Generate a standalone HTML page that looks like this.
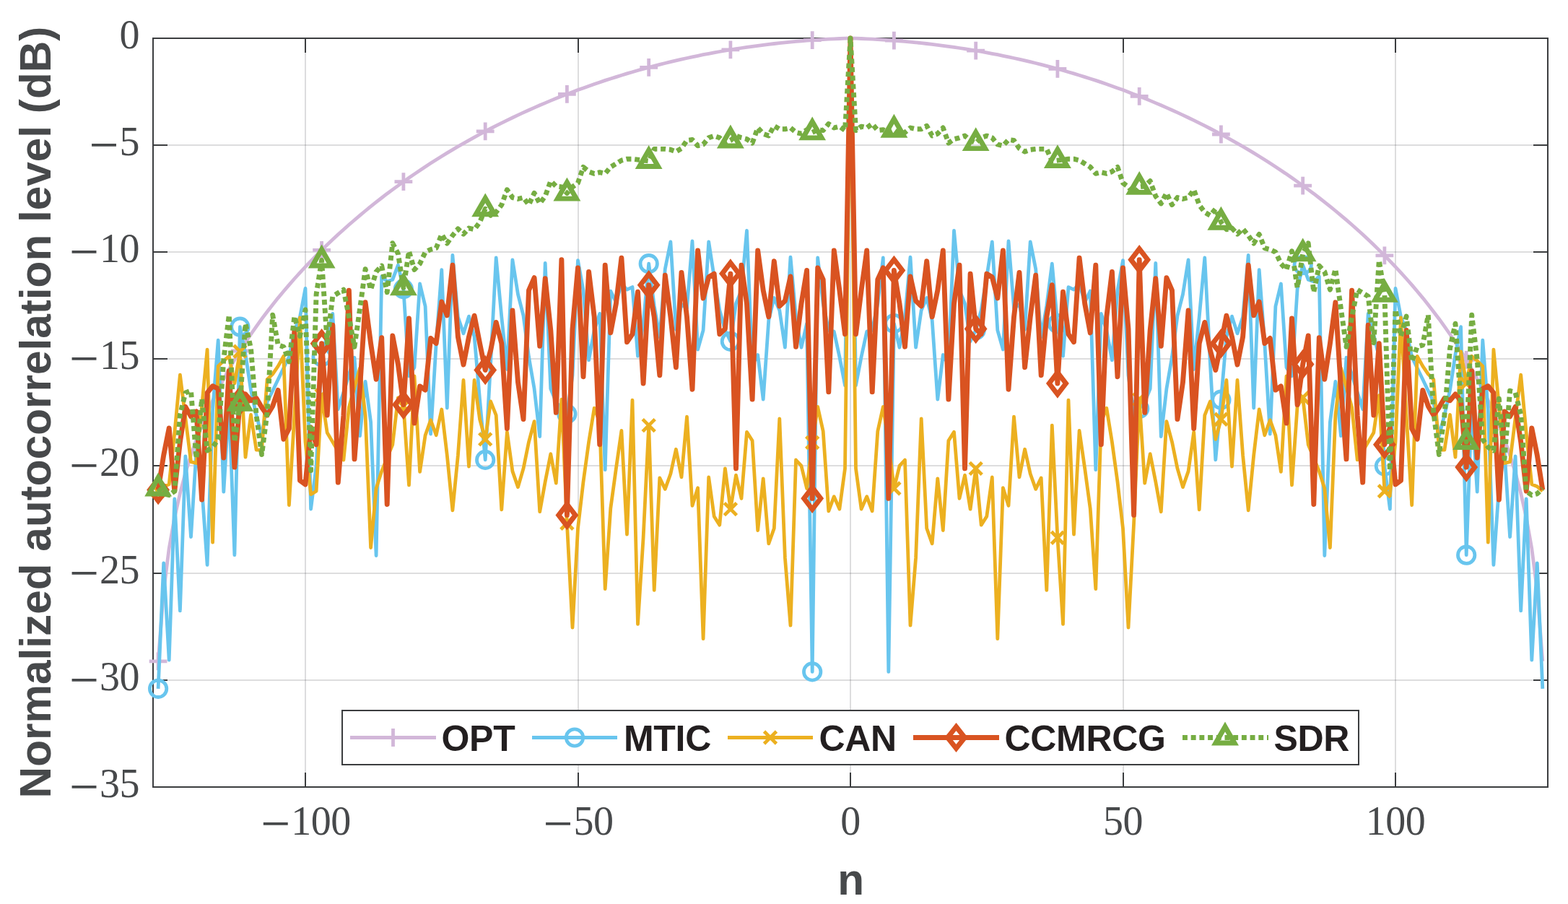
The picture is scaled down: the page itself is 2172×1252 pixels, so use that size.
<!DOCTYPE html>
<html lang="en"><head><meta charset="utf-8"><title>Normalized autocorrelation level</title>
<style>html,body{margin:0;padding:0;background:#fff}body{width:2172px;height:1252px;overflow:hidden}svg{display:block}.tk{font-family:"Liberation Serif","DejaVu Serif",serif;font-size:56px;letter-spacing:-0.5px;fill:#47494b}.mn{font-family:"Liberation Serif","DejaVu Serif",serif;font-size:72.8px;fill:#47494b}.lb{font-family:"Liberation Sans","DejaVu Sans",sans-serif;font-weight:bold;font-size:60.3px;fill:#47494b}.lg{font-family:"Liberation Sans","DejaVu Sans",sans-serif;font-weight:bold;font-size:50px;letter-spacing:-0.3px;fill:#231f20}</style></head><body>
<svg width="2172" height="1252" viewBox="0 0 2172 1252">
<rect x="0" y="0" width="2172" height="1252" fill="#ffffff"/>
<path d="M423 53V1090M801 53V1090M1178 53V1090M1556 53V1090M1933 53V1090" stroke="#26282c" stroke-opacity="0.155" stroke-width="2" fill="none"/>
<path d="M212 201H2144M212 349H2144M212 497H2144M212 645H2144M212 794H2144M212 942H2144" stroke="#26282c" stroke-opacity="0.155" stroke-width="2" fill="none"/>
<path d="M423 1090V1070M423 53V73M801 1090V1070M801 53V73M1178 1090V1070M1178 53V73M1556 1090V1070M1556 53V73M1933 1090V1070M1933 53V73M212 201H232M2144 201H2124M212 349H232M2144 349H2124M212 497H232M2144 497H2124M212 645H232M2144 645H2124M212 794H232M2144 794H2124M212 942H232M2144 942H2124" stroke="#3b3d3f" stroke-width="2" fill="none"/>
<rect x="212" y="53" width="1932" height="1037" stroke="#3b3d3f" stroke-width="2" fill="none"/>
<path d="M219.1 915.8L226.7 818.1L234.2 759.6L241.8 717L249.4 683.2L256.9 654.9L264.5 630.4L272 608.7L279.6 589.1L287.1 571.2L294.6 554.7L302.2 539.3L309.8 524.8L317.3 511.2L324.9 498.3L332.4 486L340 474.2L347.5 463L355.1 452.1L362.6 441.7L370.1 431.7L377.7 422L385.2 412.6L392.8 403.5L400.4 394.6L407.9 386L415.5 377.7L423 369.5L430.6 361.6L438.1 353.9L445.6 346.4L453.2 339L460.8 331.8L468.3 324.8L475.9 318L483.4 311.3L491 304.7L498.5 298.3L506.1 292L513.6 285.9L521.1 279.9L528.7 274L536.2 268.2L543.8 262.6L551.4 257.1L558.9 251.6L566.5 246.3L574 241.1L581.6 236L589.1 231L596.6 226.1L604.2 221.3L611.8 216.5L619.3 211.9L626.9 207.4L634.4 202.9L642 198.6L649.5 194.3L657.1 190.1L664.6 186L672.2 181.9L679.7 178L687.2 174.1L694.8 170.3L702.4 166.6L709.9 163L717.5 159.4L725 155.9L732.5 152.5L740.1 149.1L747.7 145.8L755.2 142.6L762.8 139.4L770.3 136.3L777.9 133.3L785.4 130.4L793 127.5L800.5 124.6L808 121.9L815.6 119.2L823.2 116.5L830.7 113.9L838.2 111.4L845.8 109L853.4 106.6L860.9 104.2L868.5 101.9L876 99.7L883.5 97.5L891.1 95.4L898.7 93.4L906.2 91.4L913.8 89.4L921.3 87.5L928.9 85.7L936.4 83.9L944 82.2L951.5 80.5L959 78.8L966.6 77.3L974.1 75.7L981.7 74.3L989.2 72.9L996.8 71.5L1004.4 70.2L1011.9 68.9L1019.5 67.7L1027 66.5L1034.5 65.4L1042.1 64.3L1049.7 63.3L1057.2 62.3L1064.8 61.4L1072.3 60.5L1079.8 59.6L1087.4 58.9L1095 58.1L1102.5 57.4L1110 56.8L1117.6 56.2L1125.2 55.6L1132.7 55.1L1140.2 54.6L1147.8 54.2L1155.3 53.9L1162.9 53.5L1170.5 53.2L1178 53L1185.5 53.2L1193.1 53.5L1200.7 53.9L1208.2 54.2L1215.8 54.6L1223.3 55.1L1230.8 55.6L1238.4 56.2L1246 56.8L1253.5 57.4L1261 58.1L1268.6 58.9L1276.2 59.6L1283.7 60.5L1291.2 61.4L1298.8 62.3L1306.3 63.3L1313.9 64.3L1321.5 65.4L1329 66.5L1336.5 67.7L1344.1 68.9L1351.7 70.2L1359.2 71.5L1366.8 72.9L1374.3 74.3L1381.8 75.7L1389.4 77.3L1397 78.8L1404.5 80.5L1412 82.2L1419.6 83.9L1427.2 85.7L1434.7 87.5L1442.2 89.4L1449.8 91.4L1457.3 93.4L1464.9 95.4L1472.5 97.5L1480 99.7L1487.5 101.9L1495.1 104.2L1502.7 106.6L1510.2 109L1517.8 111.4L1525.3 113.9L1532.8 116.5L1540.4 119.2L1548 121.9L1555.5 124.6L1563 127.5L1570.6 130.4L1578.2 133.3L1585.7 136.3L1593.2 139.4L1600.8 142.6L1608.3 145.8L1615.9 149.1L1623.5 152.5L1631 155.9L1638.5 159.4L1646.1 163L1653.7 166.6L1661.2 170.3L1668.8 174.1L1676.3 178L1683.8 181.9L1691.4 186L1698.9 190.1L1706.5 194.3L1714 198.6L1721.6 202.9L1729.2 207.4L1736.7 211.9L1744.2 216.5L1751.8 221.3L1759.3 226.1L1766.9 231L1774.4 236L1782 241.1L1789.5 246.3L1797.1 251.6L1804.7 257.1L1812.2 262.6L1819.8 268.2L1827.3 274L1834.8 279.9L1842.4 285.9L1849.9 292L1857.5 298.3L1865 304.7L1872.6 311.3L1880.2 318L1887.7 324.8L1895.2 331.8L1902.8 339L1910.3 346.4L1917.9 353.9L1925.4 361.6L1933 369.5L1940.5 377.7L1948.1 386L1955.7 394.6L1963.2 403.5L1970.8 412.6L1978.3 422L1985.8 431.7L1993.4 441.7L2000.9 452.1L2008.5 463L2016 474.2L2023.6 486L2031.2 498.3L2038.7 511.2L2046.2 524.8L2053.8 539.3L2061.3 554.7L2068.9 571.2L2076.4 589.1L2084 608.7L2091.6 630.4L2099.1 654.9L2106.7 683.2L2114.2 717L2121.8 759.6L2129.3 818.1L2136.8 915.8" stroke="#d2b7d9" stroke-width="4.8" fill="none" stroke-linejoin="round" stroke-linecap="butt"/>
<path d="M206.7 915.8H231.5M219.1 903.4V928.2" stroke="#d2b7d9" stroke-width="4.8" fill="none"/>
<path d="M320 486H344.8M332.4 473.6V498.4" stroke="#d2b7d9" stroke-width="4.8" fill="none"/>
<path d="M433.2 346.4H458M445.6 334V358.8" stroke="#d2b7d9" stroke-width="4.8" fill="none"/>
<path d="M546.5 251.6H571.3M558.9 239.2V264" stroke="#d2b7d9" stroke-width="4.8" fill="none"/>
<path d="M659.8 181.9H684.6M672.2 169.5V194.3" stroke="#d2b7d9" stroke-width="4.8" fill="none"/>
<path d="M773 130.4H797.8M785.4 118V142.8" stroke="#d2b7d9" stroke-width="4.8" fill="none"/>
<path d="M886.3 93.4H911.1M898.7 81V105.8" stroke="#d2b7d9" stroke-width="4.8" fill="none"/>
<path d="M999.5 68.9H1024.3M1011.9 56.5V81.3" stroke="#d2b7d9" stroke-width="4.8" fill="none"/>
<path d="M1112.8 55.6H1137.6M1125.2 43.2V68" stroke="#d2b7d9" stroke-width="4.8" fill="none"/>
<path d="M1226 56.2H1250.8M1238.4 43.8V68.6" stroke="#d2b7d9" stroke-width="4.8" fill="none"/>
<path d="M1339.2 70.2H1364.1M1351.7 57.8V82.6" stroke="#d2b7d9" stroke-width="4.8" fill="none"/>
<path d="M1452.5 95.4H1477.3M1464.9 83V107.8" stroke="#d2b7d9" stroke-width="4.8" fill="none"/>
<path d="M1565.8 133.3H1590.6M1578.2 120.9V145.7" stroke="#d2b7d9" stroke-width="4.8" fill="none"/>
<path d="M1679 186H1703.8M1691.4 173.6V198.4" stroke="#d2b7d9" stroke-width="4.8" fill="none"/>
<path d="M1792.2 257.1H1817.1M1804.7 244.7V269.5" stroke="#d2b7d9" stroke-width="4.8" fill="none"/>
<path d="M1905.5 353.9H1930.3M1917.9 341.5V366.3" stroke="#d2b7d9" stroke-width="4.8" fill="none"/>
<path d="M2018.8 498.3H2043.6M2031.2 485.9V510.7" stroke="#d2b7d9" stroke-width="4.8" fill="none"/>
<path d="M219.1 953.8L226.7 779.8L234.2 914.1L241.8 691L249.4 845.9L256.9 631.8L264.5 743.7L272 624.1L279.6 675.2L287.1 782.4L294.6 567.8L302.2 471.2L309.8 681.1L317.3 557.7L324.9 768.7L332.4 452.7L340 490.5L347.5 540.3L355.1 575.2L362.6 603.7L370.1 556.8L377.7 541.2L385.2 525.5L392.8 509.8L400.4 494.2L407.9 457.3L415.5 438.9L423 399.4L430.6 705L438.1 645.6L445.6 494.2L453.2 463.8L460.8 434.4L468.3 566.8L475.9 543.3L483.4 518.7L491 495.2L498.5 603.7L506.1 528.4L513.6 584.5L521.1 769.5L528.7 382.8L536.2 390L543.8 387.3L551.4 367.1L558.9 400.2L566.5 520.8L574 508.9L581.6 393L589.1 424.2L596.6 601L604.2 475.7L611.8 373.6L619.3 565L626.9 353.4L634.4 438.9L642 461.9L649.5 438.1L657.1 466.5L664.6 553.7L672.2 636.9L679.7 501.6L687.2 357L694.8 438.9L702.4 511.6L709.9 359.8L717.5 407.6L725 437.1L732.5 494.2L740.1 538.4L747.7 604.6L755.2 364.4L762.8 538.4L770.3 556.8L777.9 566L785.4 573.4L793 520L800.5 360.7L808 402.1L815.6 498.7L823.2 457.3L830.7 434.4L838.2 650.7L845.8 403.1L853.4 418.5L860.9 393L868.5 401.1L876 397.6L883.5 493.2L891.1 448.2L898.7 365.2L906.2 423.4L913.8 466.8L921.3 372.6L928.9 334.9L936.4 456.3L944 421.5L951.5 426.9L959 334L966.6 484L974.1 457.3L981.7 334.9L989.2 383.7L996.8 429.7L1004.4 457.3L1011.9 472.8L1019.5 420.5L1027 402.1L1034.5 319.3L1042.1 505.3L1049.7 491.5L1057.2 553.1L1064.8 443.5L1072.3 412.5L1079.8 429.7L1087.4 481.2L1095 356.1L1102.5 438.9L1110 481.2L1117.6 448.1L1125.2 930.4L1132.7 357L1140.2 420.5L1147.8 457.3L1155.3 459.2L1162.9 494.2L1170.5 533.7L1178 53L1185.5 533.7L1193.1 494.2L1200.7 459.2L1208.2 457.3L1215.8 420.5L1223.3 357L1230.8 930.4L1238.4 448.1L1246 481.2L1253.5 438.9L1261 356.1L1268.6 481.2L1276.2 429.7L1283.7 412.5L1291.2 443.5L1298.8 553.1L1306.3 491.5L1313.9 505.3L1321.5 319.3L1329 402.1L1336.5 420.5L1344.1 472.8L1351.7 457.3L1359.2 429.7L1366.8 383.7L1374.3 334.9L1381.8 457.3L1389.4 484L1397 334L1404.5 426.9L1412 421.5L1419.6 456.3L1427.2 334.9L1434.7 372.6L1442.2 466.8L1449.8 423.4L1457.3 365.2L1464.9 448.2L1472.5 493.2L1480 397.6L1487.5 401.1L1495.1 393L1502.7 418.5L1510.2 403.1L1517.8 650.7L1525.3 434.4L1532.8 457.3L1540.4 498.7L1548 402.1L1555.5 360.7L1563 520L1570.6 573.4L1578.2 566L1585.7 556.8L1593.2 538.4L1600.8 364.4L1608.3 604.6L1615.9 538.4L1623.5 494.2L1631 437.1L1638.5 407.6L1646.1 359.8L1653.7 511.6L1661.2 438.9L1668.8 357L1676.3 501.6L1683.8 636.9L1691.4 553.7L1698.9 466.5L1706.5 438.1L1714 461.9L1721.6 438.9L1729.2 353.4L1736.7 565L1744.2 373.6L1751.8 475.7L1759.3 601L1766.9 424.2L1774.4 393L1782 508.9L1789.5 520.8L1797.1 400.2L1804.7 367.1L1812.2 387.3L1819.8 390L1827.3 382.8L1834.8 769.5L1842.4 584.5L1849.9 528.4L1857.5 603.7L1865 495.2L1872.6 518.7L1880.2 543.3L1887.7 566.8L1895.2 434.4L1902.8 463.8L1910.3 494.2L1917.9 645.6L1925.4 705L1933 399.4L1940.5 438.9L1948.1 457.3L1955.7 494.2L1963.2 509.8L1970.8 525.5L1978.3 541.2L1985.8 556.8L1993.4 603.7L2000.9 575.2L2008.5 540.3L2016 490.5L2023.6 452.7L2031.2 768.7L2038.7 557.7L2046.2 681.1L2053.8 471.2L2061.3 567.8L2068.9 782.4L2076.4 675.2L2084 624.1L2091.6 743.7L2099.1 631.8L2106.7 845.9L2114.2 691L2121.8 914.1L2129.3 779.8L2136.8 953.8" stroke="#68c5ee" stroke-width="4.8" fill="none" stroke-linejoin="round" stroke-linecap="butt"/>
<circle cx="219.1" cy="953.8" r="11.7" stroke="#68c5ee" stroke-width="4.8" fill="none"/>
<circle cx="332.4" cy="452.7" r="11.7" stroke="#68c5ee" stroke-width="4.8" fill="none"/>
<circle cx="445.6" cy="494.2" r="11.7" stroke="#68c5ee" stroke-width="4.8" fill="none"/>
<circle cx="558.9" cy="400.2" r="11.7" stroke="#68c5ee" stroke-width="4.8" fill="none"/>
<circle cx="672.2" cy="636.9" r="11.7" stroke="#68c5ee" stroke-width="4.8" fill="none"/>
<circle cx="785.4" cy="573.4" r="11.7" stroke="#68c5ee" stroke-width="4.8" fill="none"/>
<circle cx="898.7" cy="365.2" r="11.7" stroke="#68c5ee" stroke-width="4.8" fill="none"/>
<circle cx="1011.9" cy="472.8" r="11.7" stroke="#68c5ee" stroke-width="4.8" fill="none"/>
<circle cx="1125.2" cy="930.4" r="11.7" stroke="#68c5ee" stroke-width="4.8" fill="none"/>
<circle cx="1238.4" cy="448.1" r="11.7" stroke="#68c5ee" stroke-width="4.8" fill="none"/>
<circle cx="1351.7" cy="457.3" r="11.7" stroke="#68c5ee" stroke-width="4.8" fill="none"/>
<circle cx="1464.9" cy="448.2" r="11.7" stroke="#68c5ee" stroke-width="4.8" fill="none"/>
<circle cx="1578.2" cy="566" r="11.7" stroke="#68c5ee" stroke-width="4.8" fill="none"/>
<circle cx="1691.4" cy="553.7" r="11.7" stroke="#68c5ee" stroke-width="4.8" fill="none"/>
<circle cx="1804.7" cy="367.1" r="11.7" stroke="#68c5ee" stroke-width="4.8" fill="none"/>
<circle cx="1917.9" cy="645.6" r="11.7" stroke="#68c5ee" stroke-width="4.8" fill="none"/>
<circle cx="2031.2" cy="768.7" r="11.7" stroke="#68c5ee" stroke-width="4.8" fill="none"/>
<path d="M219.1 680.2L226.7 673.7L234.2 670.8L241.8 599.9L249.4 519.1L256.9 578.9L264.5 639.7L272 641.5L279.6 562.3L287.1 484.1L294.6 751.1L302.2 507.1L309.8 499.7L317.3 493.3L324.9 531L332.4 486.8L340 633.2L347.5 574.4L355.1 623.1L362.6 623.1L370.1 525.5L377.7 518.1L385.2 507.1L392.8 493.3L400.4 699.5L407.9 575.2L415.5 439.9L423 612.1L430.6 684.7L438.1 680.2L445.6 547.6L453.2 599.2L460.8 612.1L468.3 625L475.9 636.9L483.4 564.2L491 536.5L498.5 509.9L506.1 575.2L513.6 758.5L521.1 676.5L528.7 652.6L536.2 634.2L543.8 615.8L551.4 550.8L558.9 562.4L566.5 671.9L574 520.9L581.6 653.4L589.1 602.9L596.6 581.8L604.2 602.8L611.8 567L619.3 630.5L626.9 706.8L634.4 630.5L642 526.5L649.5 646.1L657.1 526.5L664.6 580.8L672.2 608.4L679.7 556L687.2 575.2L694.8 705.9L702.4 598.3L709.9 652.6L717.5 674.6L725 648.9L732.5 612.1L740.1 583.6L747.7 708.7L755.2 667.3L762.8 628.7L770.3 669.1L777.9 553.1L785.4 724.7L793 869L800.5 731.8L808 667.3L815.6 612.1L823.2 565.2L830.7 584.5L838.2 815.6L845.8 704.2L853.4 648.9L860.9 596.5L868.5 740L876 554.1L883.5 864.4L891.1 744.7L898.7 589.1L906.2 817.4L913.8 661.9L921.3 677.4L928.9 656.3L936.4 622.3L944 660.8L951.5 577.2L959 700.4L966.6 675.7L974.1 884.6L981.7 661L989.2 715.2L996.8 727.1L1004.4 648.9L1011.9 705.1L1019.5 658.2L1027 690.3L1034.5 598.3L1042.1 610.2L1049.7 734.5L1057.2 662.8L1064.8 752.9L1072.3 731.8L1079.8 579.9L1087.4 772.4L1095 866.2L1102.5 637L1110 645.2L1117.6 676.5L1125.2 613L1132.7 563.4L1140.2 597.3L1147.8 707.8L1155.3 687.7L1162.9 705L1170.5 648.9L1178 53L1185.5 648.9L1193.1 705L1200.7 687.7L1208.2 707.8L1215.8 597.3L1223.3 563.4L1230.8 613L1238.4 676.5L1246 645.2L1253.5 637L1261 866.2L1268.6 772.4L1276.2 579.9L1283.7 731.8L1291.2 752.9L1298.8 662.8L1306.3 734.5L1313.9 610.2L1321.5 598.3L1329 690.3L1336.5 658.2L1344.1 705.1L1351.7 648.9L1359.2 727.1L1366.8 715.2L1374.3 661L1381.8 884.6L1389.4 675.7L1397 700.4L1404.5 577.2L1412 660.8L1419.6 622.3L1427.2 656.3L1434.7 677.4L1442.2 661.9L1449.8 817.4L1457.3 589.1L1464.9 744.7L1472.5 864.4L1480 554.1L1487.5 740L1495.1 596.5L1502.7 648.9L1510.2 704.2L1517.8 815.6L1525.3 584.5L1532.8 565.2L1540.4 612.1L1548 667.3L1555.5 731.8L1563 869L1570.6 724.7L1578.2 553.1L1585.7 669.1L1593.2 628.7L1600.8 667.3L1608.3 708.7L1615.9 583.6L1623.5 612.1L1631 648.9L1638.5 674.6L1646.1 652.6L1653.7 598.3L1661.2 705.9L1668.8 575.2L1676.3 556L1683.8 608.4L1691.4 580.8L1698.9 526.5L1706.5 646.1L1714 526.5L1721.6 630.5L1729.2 706.8L1736.7 630.5L1744.2 567L1751.8 602.8L1759.3 581.8L1766.9 602.9L1774.4 653.4L1782 520.9L1789.5 671.9L1797.1 562.4L1804.7 550.8L1812.2 615.8L1819.8 634.2L1827.3 652.6L1834.8 676.5L1842.4 758.5L1849.9 575.2L1857.5 509.9L1865 536.5L1872.6 564.2L1880.2 636.9L1887.7 625L1895.2 612.1L1902.8 599.2L1910.3 547.6L1917.9 680.2L1925.4 684.7L1933 612.1L1940.5 439.9L1948.1 575.2L1955.7 699.5L1963.2 493.3L1970.8 507.1L1978.3 518.1L1985.8 525.5L1993.4 623.1L2000.9 623.1L2008.5 574.4L2016 633.2L2023.6 486.8L2031.2 531L2038.7 493.3L2046.2 499.7L2053.8 507.1L2061.3 751.1L2068.9 484.1L2076.4 562.3L2084 641.5L2091.6 639.7L2099.1 578.9L2106.7 519.1L2114.2 599.9L2121.8 670.8L2129.3 673.7L2136.8 680.2" stroke="#ecb020" stroke-width="4.8" fill="none" stroke-linejoin="round" stroke-linecap="butt"/>
<path d="M210.6 671.7L227.6 688.7M210.6 688.7L227.6 671.7" stroke="#ecb020" stroke-width="4.8" fill="none"/>
<path d="M323.9 478.3L340.9 495.3M323.9 495.3L340.9 478.3" stroke="#ecb020" stroke-width="4.8" fill="none"/>
<path d="M437.1 539.1L454.1 556.1M437.1 556.1L454.1 539.1" stroke="#ecb020" stroke-width="4.8" fill="none"/>
<path d="M550.4 553.9L567.4 570.9M550.4 570.9L567.4 553.9" stroke="#ecb020" stroke-width="4.8" fill="none"/>
<path d="M663.7 599.9L680.7 616.9M663.7 616.9L680.7 599.9" stroke="#ecb020" stroke-width="4.8" fill="none"/>
<path d="M776.9 716.2L793.9 733.2M776.9 733.2L793.9 716.2" stroke="#ecb020" stroke-width="4.8" fill="none"/>
<path d="M890.2 580.6L907.2 597.6M890.2 597.6L907.2 580.6" stroke="#ecb020" stroke-width="4.8" fill="none"/>
<path d="M1003.4 696.6L1020.4 713.6M1003.4 713.6L1020.4 696.6" stroke="#ecb020" stroke-width="4.8" fill="none"/>
<path d="M1116.7 604.5L1133.7 621.5M1116.7 621.5L1133.7 604.5" stroke="#ecb020" stroke-width="4.8" fill="none"/>
<path d="M1229.9 668L1246.9 685M1229.9 685L1246.9 668" stroke="#ecb020" stroke-width="4.8" fill="none"/>
<path d="M1343.2 640.4L1360.2 657.4M1343.2 657.4L1360.2 640.4" stroke="#ecb020" stroke-width="4.8" fill="none"/>
<path d="M1456.4 736.2L1473.4 753.2M1456.4 753.2L1473.4 736.2" stroke="#ecb020" stroke-width="4.8" fill="none"/>
<path d="M1569.7 544.6L1586.7 561.6M1569.7 561.6L1586.7 544.6" stroke="#ecb020" stroke-width="4.8" fill="none"/>
<path d="M1682.9 572.3L1699.9 589.3M1682.9 589.3L1699.9 572.3" stroke="#ecb020" stroke-width="4.8" fill="none"/>
<path d="M1796.2 542.3L1813.2 559.3M1796.2 559.3L1813.2 542.3" stroke="#ecb020" stroke-width="4.8" fill="none"/>
<path d="M1909.4 671.7L1926.4 688.7M1909.4 688.7L1926.4 671.7" stroke="#ecb020" stroke-width="4.8" fill="none"/>
<path d="M2022.7 522.5L2039.7 539.5M2022.7 539.5L2039.7 522.5" stroke="#ecb020" stroke-width="4.8" fill="none"/>
<path d="M219.1 678.4L226.7 630.5L234.2 592.9L241.8 680.1L249.4 612.1L256.9 563.4L264.5 576.9L272 569.9L279.6 692L287.1 543.9L294.6 534.7L302.2 538.4L309.8 634L317.3 513.7L324.9 647.1L332.4 555L340 545.9L347.5 554.8L355.1 551.5L362.6 564.2L370.1 575.1L377.7 562.4L385.2 540.4L392.8 608.2L400.4 593.7L407.9 457.5L415.5 665.5L423 670.9L430.6 592L438.1 615.8L445.6 475.7L453.2 575.1L460.8 450.1L468.3 668.1L475.9 575.2L483.4 402.2L491 635.9L498.5 538.4L506.1 418.8L513.6 475.7L521.1 525.3L528.7 467.6L536.2 698.5L543.8 464.9L551.4 504.5L558.9 560.5L566.5 440.9L574 586.1L581.6 534.9L589.1 540.1L596.6 468.5L604.2 475.6L611.8 417.9L619.3 436.9L626.9 367.2L634.4 466.5L642 505.1L649.5 466.5L657.1 437.2L664.6 475.7L672.2 512.6L679.7 485L687.2 446.4L694.8 475.7L702.4 593.5L709.9 429.9L717.5 529.2L725 580.6L732.5 402.1L740.1 384.7L747.7 479.3L755.2 385.7L762.8 457.3L770.3 571.4L777.9 359.7L785.4 713.4L793 455.5L800.5 370.9L808 521.7L815.6 376.5L823.2 438.9L830.7 615.6L838.2 367.2L845.8 460.9L853.4 420.5L860.9 357.1L868.5 473.7L876 462.9L883.5 404.1L891.1 531L898.7 394.7L906.2 438.9L913.8 519.8L921.3 381.1L928.9 438.9L936.4 508.7L944 377.4L951.5 438.9L959 539.2L966.6 347L974.1 413L981.7 383.7L989.2 379.1L996.8 462.7L1004.4 455.5L1011.9 379.1L1019.5 648.8L1027 367.2L1034.5 420.5L1042.1 553L1049.7 347L1057.2 402.1L1064.8 438.8L1072.3 361.7L1079.8 424L1087.4 416.8L1095 382.9L1102.5 480.2L1110 420.5L1117.6 374.5L1125.2 690.3L1132.7 370.9L1140.2 387.3L1147.8 542.9L1155.3 347L1162.9 402.1L1170.5 462.7L1178 53L1185.5 462.7L1193.1 402.1L1200.7 347L1208.2 542.9L1215.8 387.3L1223.3 370.9L1230.8 690.3L1238.4 374.5L1246 420.5L1253.5 480.2L1261 382.9L1268.6 416.8L1276.2 424L1283.7 361.7L1291.2 438.8L1298.8 402.1L1306.3 347L1313.9 553L1321.5 420.5L1329 367.2L1336.5 648.8L1344.1 379.1L1351.7 455.5L1359.2 462.7L1366.8 379.1L1374.3 383.7L1381.8 413L1389.4 347L1397 539.2L1404.5 438.9L1412 377.4L1419.6 508.7L1427.2 438.9L1434.7 381.1L1442.2 519.8L1449.8 438.9L1457.3 394.7L1464.9 531L1472.5 404.1L1480 462.9L1487.5 473.7L1495.1 357.1L1502.7 420.5L1510.2 460.9L1517.8 367.2L1525.3 615.6L1532.8 438.9L1540.4 376.5L1548 521.7L1555.5 370.9L1563 455.5L1570.6 713.4L1578.2 359.7L1585.7 571.4L1593.2 457.3L1600.8 385.7L1608.3 479.3L1615.9 384.7L1623.5 402.1L1631 580.6L1638.5 529.2L1646.1 429.9L1653.7 593.5L1661.2 475.7L1668.8 446.4L1676.3 485L1683.8 512.6L1691.4 475.7L1698.9 437.2L1706.5 466.5L1714 505.1L1721.6 466.5L1729.2 367.2L1736.7 436.9L1744.2 417.9L1751.8 475.6L1759.3 468.5L1766.9 540.1L1774.4 534.9L1782 586.1L1789.5 440.9L1797.1 560.5L1804.7 504.5L1812.2 464.9L1819.8 698.5L1827.3 467.6L1834.8 525.3L1842.4 475.7L1849.9 418.8L1857.5 538.4L1865 635.9L1872.6 402.2L1880.2 575.2L1887.7 668.1L1895.2 450.1L1902.8 575.1L1910.3 475.7L1917.9 615.8L1925.4 592L1933 670.9L1940.5 665.5L1948.1 457.5L1955.7 593.7L1963.2 608.2L1970.8 540.4L1978.3 562.4L1985.8 575.1L1993.4 564.2L2000.9 551.5L2008.5 554.8L2016 545.9L2023.6 555L2031.2 647.1L2038.7 513.7L2046.2 634L2053.8 538.4L2061.3 534.7L2068.9 543.9L2076.4 692L2084 569.9L2091.6 576.9L2099.1 563.4L2106.7 612.1L2114.2 680.1L2121.8 592.9L2129.3 630.5L2136.8 678.4" stroke="#d95321" stroke-width="6.9" fill="none" stroke-linejoin="round" stroke-linecap="butt"/>
<path d="M219.1 663.3L230.7 678.4L219.1 693.5L207.5 678.4Z" stroke="#d95321" stroke-width="6.9" fill="none" stroke-linejoin="miter"/>
<path d="M332.4 539.9L344 555L332.4 570.1L320.8 555Z" stroke="#d95321" stroke-width="6.9" fill="none" stroke-linejoin="miter"/>
<path d="M445.6 460.6L457.2 475.7L445.6 490.8L434 475.7Z" stroke="#d95321" stroke-width="6.9" fill="none" stroke-linejoin="miter"/>
<path d="M558.9 545.4L570.5 560.5L558.9 575.6L547.3 560.5Z" stroke="#d95321" stroke-width="6.9" fill="none" stroke-linejoin="miter"/>
<path d="M672.2 497.5L683.8 512.6L672.2 527.7L660.6 512.6Z" stroke="#d95321" stroke-width="6.9" fill="none" stroke-linejoin="miter"/>
<path d="M785.4 698.3L797 713.4L785.4 728.5L773.8 713.4Z" stroke="#d95321" stroke-width="6.9" fill="none" stroke-linejoin="miter"/>
<path d="M898.7 379.6L910.3 394.7L898.7 409.8L887.1 394.7Z" stroke="#d95321" stroke-width="6.9" fill="none" stroke-linejoin="miter"/>
<path d="M1011.9 364L1023.5 379.1L1011.9 394.2L1000.3 379.1Z" stroke="#d95321" stroke-width="6.9" fill="none" stroke-linejoin="miter"/>
<path d="M1125.2 675.2L1136.8 690.3L1125.2 705.4L1113.6 690.3Z" stroke="#d95321" stroke-width="6.9" fill="none" stroke-linejoin="miter"/>
<path d="M1238.4 359.4L1250 374.5L1238.4 389.6L1226.8 374.5Z" stroke="#d95321" stroke-width="6.9" fill="none" stroke-linejoin="miter"/>
<path d="M1351.7 440.4L1363.2 455.5L1351.7 470.6L1340.1 455.5Z" stroke="#d95321" stroke-width="6.9" fill="none" stroke-linejoin="miter"/>
<path d="M1464.9 515.9L1476.5 531L1464.9 546.1L1453.3 531Z" stroke="#d95321" stroke-width="6.9" fill="none" stroke-linejoin="miter"/>
<path d="M1578.2 344.6L1589.8 359.7L1578.2 374.8L1566.6 359.7Z" stroke="#d95321" stroke-width="6.9" fill="none" stroke-linejoin="miter"/>
<path d="M1691.4 460.6L1703 475.7L1691.4 490.8L1679.8 475.7Z" stroke="#d95321" stroke-width="6.9" fill="none" stroke-linejoin="miter"/>
<path d="M1804.7 489.4L1816.2 504.5L1804.7 519.6L1793.1 504.5Z" stroke="#d95321" stroke-width="6.9" fill="none" stroke-linejoin="miter"/>
<path d="M1917.9 600.7L1929.5 615.8L1917.9 630.9L1906.3 615.8Z" stroke="#d95321" stroke-width="6.9" fill="none" stroke-linejoin="miter"/>
<path d="M2031.2 632L2042.8 647.1L2031.2 662.2L2019.6 647.1Z" stroke="#d95321" stroke-width="6.9" fill="none" stroke-linejoin="miter"/>
<path d="M219.1 676.5L226.7 683.9L234.2 685.7L241.8 680.2L249.4 574.5L256.9 543.9L264.5 541.2L272 635L279.6 552.3L287.1 624L294.6 619.4L302.2 608.4L309.8 497.9L317.3 436.2L324.9 612.1L332.4 558.7L340 448.2L347.5 482.6L355.1 575.2L362.6 629.5L370.1 571.6L377.7 436.2L385.2 477.9L392.8 480.2L400.4 500.9L407.9 438.1L415.5 465.5L423 428.9L430.6 651.6L438.1 407.7L445.6 360.5L453.2 474.7L460.8 410.4L468.3 405.8L475.9 401.2L483.4 438.9L491 480.3L498.5 427.9L506.1 372.7L513.6 401.1L521.1 376.3L528.7 368.1L536.2 404.8L543.8 336.8L551.4 351.4L558.9 398.4L566.5 347.8L574 373.5L581.6 365.2L589.1 349.2L596.6 345.5L604.2 343.6L611.8 324.4L619.3 337.1L626.9 326.1L634.4 317L642 324.2L649.5 316L657.1 317.8L664.6 307.7L672.2 289.3L679.7 298.4L687.2 293.9L694.8 283.8L702.4 262.7L709.9 273.6L717.5 275.5L725 273.6L732.5 283.7L740.1 267.3L747.7 281.9L755.2 271.8L762.8 250.7L770.3 258L777.9 258.9L785.4 267.6L793 258.9L800.5 253.4L808 231.4L815.6 237.7L823.2 240.4L830.7 238.7L838.2 240.4L845.8 231.3L853.4 226.7L860.9 222.1L868.5 220.2L876 220.2L883.5 221.2L891.1 222.1L898.7 223L906.2 206.4L913.8 206.4L921.3 206.4L928.9 207.3L936.4 210.1L944 205.5L951.5 194.5L959 193.5L966.6 201.8L974.1 200L981.7 190.8L989.2 188.1L996.8 190.8L1004.4 198.1L1011.9 194.5L1019.5 188.1L1027 190.8L1034.5 192.6L1042.1 198.1L1049.7 177L1057.2 185.2L1064.8 187.9L1072.3 174.3L1079.8 178.8L1087.4 178.8L1095 177L1102.5 183.4L1110 185.2L1117.6 179.7L1125.2 183.4L1132.7 179.7L1140.2 180.6L1147.8 171.5L1155.3 177L1162.9 175.1L1170.5 180.6L1178 53L1185.5 180.6L1193.1 175.1L1200.7 177L1208.2 171.5L1215.8 180.6L1223.3 179.7L1230.8 183.4L1238.4 179.7L1246 185.2L1253.5 183.4L1261 177L1268.6 178.8L1276.2 178.8L1283.7 174.3L1291.2 187.9L1298.8 185.2L1306.3 177L1313.9 198.1L1321.5 192.6L1329 190.8L1336.5 188.1L1344.1 194.5L1351.7 198.1L1359.2 190.8L1366.8 188.1L1374.3 190.8L1381.8 200L1389.4 201.8L1397 193.5L1404.5 194.5L1412 205.5L1419.6 210.1L1427.2 207.3L1434.7 206.4L1442.2 206.4L1449.8 206.4L1457.3 223L1464.9 222.1L1472.5 221.2L1480 220.2L1487.5 220.2L1495.1 222.1L1502.7 226.7L1510.2 231.3L1517.8 240.4L1525.3 238.7L1532.8 240.4L1540.4 237.7L1548 231.4L1555.5 253.4L1563 258.9L1570.6 267.6L1578.2 258.9L1585.7 258L1593.2 250.7L1600.8 271.8L1608.3 281.9L1615.9 267.3L1623.5 283.7L1631 273.6L1638.5 275.5L1646.1 273.6L1653.7 262.7L1661.2 283.8L1668.8 293.9L1676.3 298.4L1683.8 289.3L1691.4 307.7L1698.9 317.8L1706.5 316L1714 324.2L1721.6 317L1729.2 326.1L1736.7 337.1L1744.2 324.4L1751.8 343.6L1759.3 345.5L1766.9 349.2L1774.4 365.2L1782 373.5L1789.5 347.8L1797.1 398.4L1804.7 351.4L1812.2 336.8L1819.8 404.8L1827.3 368.1L1834.8 376.3L1842.4 401.1L1849.9 372.7L1857.5 427.9L1865 480.3L1872.6 438.9L1880.2 401.2L1887.7 405.8L1895.2 410.4L1902.8 474.7L1910.3 360.5L1917.9 407.7L1925.4 651.6L1933 428.9L1940.5 465.5L1948.1 438.1L1955.7 500.9L1963.2 480.2L1970.8 477.9L1978.3 436.2L1985.8 571.6L1993.4 629.5L2000.9 575.2L2008.5 482.6L2016 448.2L2023.6 558.7L2031.2 612.1L2038.7 436.2L2046.2 497.9L2053.8 608.4L2061.3 619.4L2068.9 624L2076.4 552.3L2084 635L2091.6 541.2L2099.1 543.9L2106.7 574.5L2114.2 680.2L2121.8 685.7L2129.3 683.9L2136.8 676.5" stroke="#76ad42" stroke-width="6.9" fill="none" stroke-linejoin="round" stroke-linecap="butt" stroke-dasharray="6.9 4.8"/>
<path d="M219.1 661.5L232.1 684L206.2 684Z" stroke="#76ad42" stroke-width="6.9" fill="none" stroke-linejoin="miter"/>
<path d="M332.4 543.7L345.4 566.2L319.4 566.2Z" stroke="#76ad42" stroke-width="6.9" fill="none" stroke-linejoin="miter"/>
<path d="M445.6 345.5L458.6 368L432.7 368Z" stroke="#76ad42" stroke-width="6.9" fill="none" stroke-linejoin="miter"/>
<path d="M558.9 383.4L571.9 405.9L545.9 405.9Z" stroke="#76ad42" stroke-width="6.9" fill="none" stroke-linejoin="miter"/>
<path d="M672.2 274.3L685.1 296.8L659.2 296.8Z" stroke="#76ad42" stroke-width="6.9" fill="none" stroke-linejoin="miter"/>
<path d="M785.4 252.6L798.4 275.1L772.4 275.1Z" stroke="#76ad42" stroke-width="6.9" fill="none" stroke-linejoin="miter"/>
<path d="M898.7 208L911.6 230.5L885.7 230.5Z" stroke="#76ad42" stroke-width="6.9" fill="none" stroke-linejoin="miter"/>
<path d="M1011.9 179.5L1024.9 202L998.9 202Z" stroke="#76ad42" stroke-width="6.9" fill="none" stroke-linejoin="miter"/>
<path d="M1125.2 168.4L1138.1 190.9L1112.2 190.9Z" stroke="#76ad42" stroke-width="6.9" fill="none" stroke-linejoin="miter"/>
<path d="M1238.4 164.7L1251.4 187.2L1225.4 187.2Z" stroke="#76ad42" stroke-width="6.9" fill="none" stroke-linejoin="miter"/>
<path d="M1351.7 183.1L1364.6 205.6L1338.7 205.6Z" stroke="#76ad42" stroke-width="6.9" fill="none" stroke-linejoin="miter"/>
<path d="M1464.9 207.1L1477.9 229.6L1451.9 229.6Z" stroke="#76ad42" stroke-width="6.9" fill="none" stroke-linejoin="miter"/>
<path d="M1578.2 243.9L1591.1 266.4L1565.2 266.4Z" stroke="#76ad42" stroke-width="6.9" fill="none" stroke-linejoin="miter"/>
<path d="M1691.4 292.7L1704.4 315.2L1678.4 315.2Z" stroke="#76ad42" stroke-width="6.9" fill="none" stroke-linejoin="miter"/>
<path d="M1804.7 336.4L1817.6 358.9L1791.7 358.9Z" stroke="#76ad42" stroke-width="6.9" fill="none" stroke-linejoin="miter"/>
<path d="M1917.9 392.7L1930.9 415.2L1904.9 415.2Z" stroke="#76ad42" stroke-width="6.9" fill="none" stroke-linejoin="miter"/>
<path d="M2031.2 597.1L2044.1 619.6L2018.2 619.6Z" stroke="#76ad42" stroke-width="6.9" fill="none" stroke-linejoin="miter"/>
<text class="tk" x="192.9" y="67.2" text-anchor="end">0</text>
<text class="tk" x="192.9" y="215.2" text-anchor="end">5</text>
<text class="mn" x="123.2" y="224.5">−</text>
<text class="tk" x="192.9" y="363.2" text-anchor="end">10</text>
<text class="mn" x="95.7" y="372.6">−</text>
<text class="tk" x="192.9" y="511.2" text-anchor="end">15</text>
<text class="mn" x="95.7" y="520.5">−</text>
<text class="tk" x="192.9" y="659.2" text-anchor="end">20</text>
<text class="mn" x="95.7" y="668.6">−</text>
<text class="tk" x="192.9" y="808.2" text-anchor="end">25</text>
<text class="mn" x="95.7" y="817.6">−</text>
<text class="tk" x="192.9" y="956.2" text-anchor="end">30</text>
<text class="mn" x="95.7" y="965.6">−</text>
<text class="tk" x="192.9" y="1104.2" text-anchor="end">35</text>
<text class="mn" x="95.7" y="1113.5">−</text>
<text class="tk" x="485.7" y="1155.8" text-anchor="end">100</text>
<text class="mn" x="361" y="1165.1">−</text>
<text class="tk" x="849.4" y="1155.8" text-anchor="end">50</text>
<text class="mn" x="752.2" y="1165.1">−</text>
<text class="tk" x="1191.8" y="1155.8" text-anchor="end">0</text>
<text class="tk" x="1583" y="1155.8" text-anchor="end">50</text>
<text class="tk" x="1974.2" y="1155.8" text-anchor="end">100</text>
<text class="lb" x="1178.6" y="1238.6" text-anchor="middle">n</text>
<text class="lb" transform="translate(70 571) rotate(-90)" text-anchor="middle">Normalized autocorrelation level (dB)</text>
<rect x="474" y="984" width="1408" height="75" fill="#ffffff" stroke="#3b3d3f" stroke-width="2"/>
<path d="M485 1021.5H604" stroke="#d2b7d9" stroke-width="4.8" fill="none"/>
<path d="M532.1 1021.5H556.9M544.5 1009.1V1033.9" stroke="#d2b7d9" stroke-width="4.8" fill="none"/>
<text class="lg" x="611.5" y="1040.4">OPT</text>
<path d="M737 1021.5H855" stroke="#68c5ee" stroke-width="4.8" fill="none"/>
<circle cx="796" cy="1021.5" r="11.7" stroke="#68c5ee" stroke-width="4.8" fill="none"/>
<text class="lg" x="864" y="1040.4">MTIC</text>
<path d="M1008 1021.5H1126" stroke="#ecb020" stroke-width="4.8" fill="none"/>
<path d="M1058.5 1013L1075.5 1030M1058.5 1030L1075.5 1013" stroke="#ecb020" stroke-width="4.8" fill="none"/>
<text class="lg" x="1134.5" y="1040.4">CAN</text>
<path d="M1265 1021.5H1384" stroke="#d95321" stroke-width="6.9" fill="none"/>
<path d="M1324.5 1006.5L1336.4 1021.5L1324.5 1036.5L1312.6 1021.5Z" stroke="#d95321" stroke-width="6.9" fill="none" stroke-linejoin="miter"/>
<text class="lg" x="1391.5" y="1040.4">CCMRCG</text>
<path d="M1638 1021.5H1757" stroke="#76ad42" stroke-width="6.9" fill="none" stroke-dasharray="6.9 4.8"/>
<path d="M1697 1006.5L1710 1029L1684 1029Z" stroke="#76ad42" stroke-width="6.9" fill="none" stroke-linejoin="miter"/>
<text class="lg" x="1764.5" y="1040.4">SDR</text>
</svg></body></html>
